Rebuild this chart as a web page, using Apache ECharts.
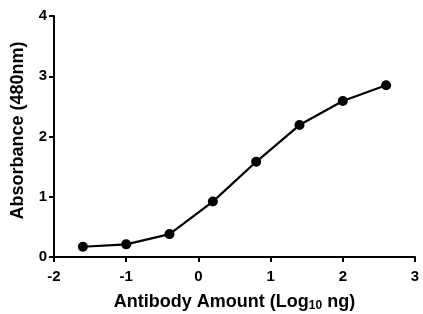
<!DOCTYPE html>
<html>
<head>
<meta charset="utf-8">
<script src="https://cdn.jsdelivr.net/npm/echarts@6/dist/echarts.min.js"></script>
<style>
  html, body { margin: 0; padding: 0; background: #fff; }
  #chart { width: 423px; height: 314px; }
</style>
</head>
<body>
<div id="chart"></div>
<script>
// log10 antibody amount (ng) and absorbance at 480nm
const logAmount = [-1.6, -1.0, -0.4, 0.2, 0.8, 1.4, 2.0, 2.6]
const absorbance = [0.17, 0.21, 0.38, 0.92, 1.58, 2.19, 2.59, 2.85]
const xTicks = [-2, -1, 0, 1, 2, 3]
const yTicks = [0, 1, 2, 3, 4]

const font = '"Liberation Sans", Arial, sans-serif'
const chart = echarts.init(document.getElementById('chart'))

const axisBase = {
    type: 'value',
    nameLocation: 'middle',
    interval: 1,
    splitLine: { show: false },
    axisLine: { show: true, onZero: false, lineStyle: { color: '#000', width: 2 } },
    axisTick: { show: true, inside: false, length: 5, lineStyle: { color: '#000', width: 2 } },
    axisLabel: { color: '#000', fontFamily: font, fontWeight: 'bold', fontSize: 15 }
}

const option = {
    animation: false,
    grid: { left: 54, right: 8, top: 16, bottom: 57, outerBoundsMode: 'none' },
    xAxis: Object.assign({}, axisBase, {
        min: xTicks[0],
        max: xTicks[xTicks.length - 1],
        name: '{a|Antibody Amount (Log}{s|10}{a| ng)}',
        nameGap: 35,
        nameTextStyle: {
            rich: {
                a: { fontFamily: font, fontWeight: 'bold', fontSize: 18, color: '#000', lineHeight: 20 },
                s: { fontFamily: font, fontWeight: 'bold', fontSize: 12, color: '#000', lineHeight: 20, verticalAlign: 'bottom', padding: [8, 0, 0, 0] }
            }
        },
        axisLabel: Object.assign({}, axisBase.axisLabel, { margin: 12 })
    }),
    yAxis: Object.assign({}, axisBase, {
        min: yTicks[0],
        max: yTicks[yTicks.length - 1],
        name: 'Absorbance (480nm)',
        nameGap: 27,
        nameTextStyle: { fontFamily: font, fontWeight: 'bold', fontSize: 18, color: '#000', padding: [0, 0, 0, 12] },
        axisLabel: Object.assign({}, axisBase.axisLabel, { margin: 7 })
    }),
    series: [{
        type: 'line',
        data: logAmount.map((x, i) => [x, absorbance[i]]),
        symbol: 'circle',
        symbolSize: 10,
        lineStyle: { color: '#000', width: 2.2 },
        itemStyle: { color: '#000' }
    }]
}

chart.setOption(option)
</script>
</body>
</html>
